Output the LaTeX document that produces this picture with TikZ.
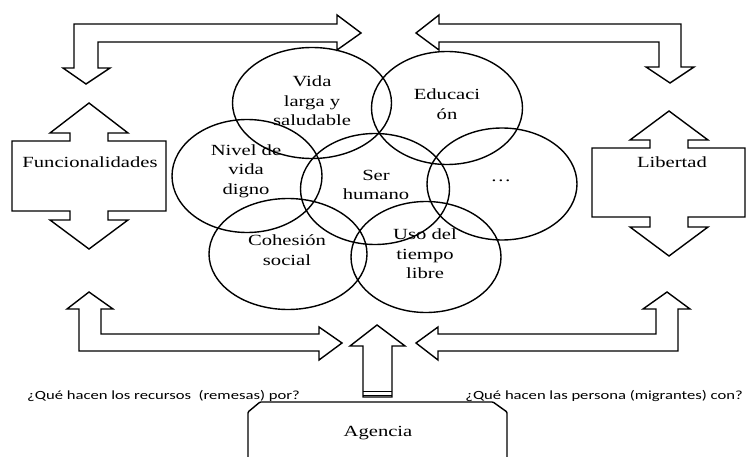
\documentclass[tikz,border=0pt]{standalone}
\usepackage{fontspec}
\setmainfont{Liberation Serif}[FakeStretch=1.33]
\newfontfamily\qfont{Carlito}[FakeStretch=1.33]
\usetikzlibrary{shapes.geometric}
\begin{document}
\begin{tikzpicture}[x=1pt,y=-1pt,
  blk/.style={draw, line width=1.4pt, line join=miter},
  ell/.style={draw, ellipse, inner sep=0pt, line width=1.4pt},
  lbl/.style={font=\fontsize{15.5}{19.5}\selectfont, align=center, inner sep=0pt},
  qlbl/.style={font=\qfont\fontsize{12.5}{15}\selectfont, inner sep=0pt}]
\useasboundingbox (0,0) rectangle (746,457);

% ---- ellipses (circles of the original, stretched) ----
\node[ell, minimum width=159pt, minimum height=111pt] (vida) at (312,103) {};
\node[ell, minimum width=151pt, minimum height=113pt] (edu)  at (447,108) {};
\node[ell, minimum width=150pt, minimum height=113pt] (nivel) at (247,176) {};
\node[ell, minimum width=149pt, minimum height=111pt] (ser)  at (375,189) {};
\node[ell, minimum width=150pt, minimum height=112pt] (etc)  at (502,184) {};
\node[ell, minimum width=158pt, minimum height=111pt] (cohe) at (288,254) {};
\node[ell, minimum width=150pt, minimum height=111pt] (uso)  at (426,257) {};

% ---- labels inside ellipses ----
\node[lbl] (tvida) at (312,101) {Vida\\larga y\\saludable};
\node[lbl] (tedu)  at (447,104) {Educaci\\ón};
\node[lbl] (tnivel) at (246,171) {Nivel de\\vida\\digno};
\node[lbl] (tser)  at (376,185) {Ser\\humano};
\node[lbl] (tetc)  at (501,181) {\dots};
\node[lbl] (tcohe) at (287,250) {Cohesión\\social};
\node[lbl] (tuso)  at (425,254) {Uso del\\tiempo\\libre};

% ---- top-left elbow arrow ----
\draw[blk] (86,84) -- (110,68) -- (98,68) -- (98,42) -- (337,42) -- (337,50)
  -- (361,33) -- (337,15) -- (337,24) -- (74,24) -- (74,68) -- (63,68) -- cycle;
% ---- top-right elbow arrow ----
\draw[blk] (416,33) -- (439,15) -- (439,24) -- (681,24) -- (681,67) -- (694,67)
  -- (670,83) -- (646,67) -- (659,67) -- (659,42) -- (439,42) -- (439,50) -- cycle;

% ---- Funcionalidades box with double arrow ----
\draw[blk] (12,141) -- (70,141) -- (70,133) -- (50,133) -- (89,103) -- (128,133)
  -- (108,133) -- (108,141) -- (166,141) -- (166,211) -- (108,211) -- (108,220)
  -- (128,220) -- (89,249) -- (50,220) -- (70,220) -- (70,211) -- (12,211) -- cycle;
\node[lbl] (func) at (90,162) {Funcionalidades};

% ---- Libertad box with double arrow ----
\draw[blk] (592,148) -- (650,148) -- (650,140) -- (630,140) -- (669,111) -- (708,140)
  -- (688,140) -- (688,148) -- (745,148) -- (745,217) -- (688,217) -- (688,227)
  -- (708,227) -- (669,256) -- (630,227) -- (650,227) -- (650,217) -- (592,217) -- cycle;
\node[lbl] (lib) at (672,162) {Libertad};

% ---- bottom-left elbow arrow ----
\draw[blk] (89,292) -- (113,309) -- (101,309) -- (101,334) -- (319,334) -- (319,327)
  -- (342,343) -- (319,360) -- (319,351) -- (79,351) -- (79,309) -- (67,309) -- cycle;
% ---- bottom-right elbow arrow ----
\draw[blk] (416,343) -- (438,327) -- (438,334) -- (656,334) -- (656,309) -- (643,309)
  -- (667,292) -- (690,309) -- (678,309) -- (678,351) -- (438,351) -- (438,360) -- cycle;

% ---- central up arrow ----
\draw[blk] (377,325) -- (405,346) -- (392,346) -- (392,397) -- (363,397) -- (363,346)
  -- (350,346) -- cycle;
\draw[line width=1.6pt] (363,391.5) -- (392,391.5);
\draw[line width=1.6pt] (363,395.5) -- (392,395.5);

% ---- Agencia box ----
\draw[blk, rounded corners=1pt] (248,460) -- (248,412) -- (260,402) -- (493,402)
  -- (507,412) -- (507,460);
\node[lbl] (agencia) at (378,433) {Agencia};

% ---- questions ----
\node[qlbl, anchor=base west] (q1) at (27,399) {¿Qué hacen los recursos~ (remesas) por?};
\node[qlbl, anchor=base east] (q2) at (743,399) {¿Qué hacen las persona (migrantes) con?};
\end{tikzpicture}
\end{document}
